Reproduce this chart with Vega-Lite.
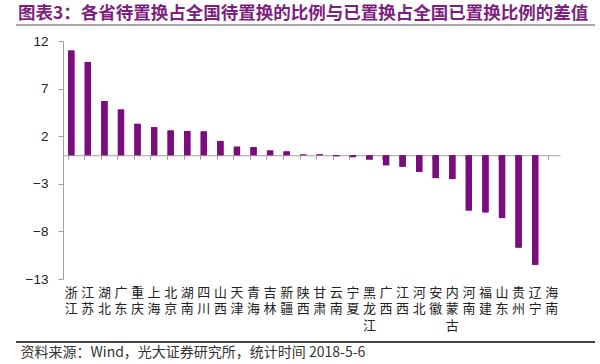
{
  "$schema": "https://vega.github.io/schema/vega-lite/v6.json",
  "width": 579,
  "height": 238,
  "autosize": {"type": "none"},
  "padding": {"left": 16, "top": 41, "right": 5, "bottom": 85},
  "background": "white",
  "title": {
    "text": "图表3：各省待置换占全国待置换的比例与已置换占全国已置换比例的差值",
    "anchor": "start",
    "frame": "group",
    "dx": 2,
    "offset": 2,
    "font": "Noto Sans CJK SC",
    "fontSize": 17.5,
    "fontWeight": "bold",
    "color": "#7E1F80"
  },
  "config": {"view": {"stroke": null}},
  "datasets": {
    "provinces": [
      {"province": "浙江", "value": 11.0},
      {"province": "江苏", "value": 9.8},
      {"province": "湖北", "value": 5.7},
      {"province": "广东", "value": 4.8},
      {"province": "重庆", "value": 3.3},
      {"province": "上海", "value": 2.95},
      {"province": "北京", "value": 2.6},
      {"province": "湖南", "value": 2.55},
      {"province": "四川", "value": 2.5},
      {"province": "山西", "value": 1.5},
      {"province": "天津", "value": 0.9},
      {"province": "青海", "value": 0.85},
      {"province": "吉林", "value": 0.5},
      {"province": "新疆", "value": 0.4},
      {"province": "陕西", "value": 0.08},
      {"province": "甘肃", "value": 0.1},
      {"province": "云南", "value": -0.1},
      {"province": "宁夏", "value": -0.2},
      {"province": "黑龙江", "value": -0.45},
      {"province": "广西", "value": -1.05},
      {"province": "江西", "value": -1.2},
      {"province": "河北", "value": -1.75},
      {"province": "安徽", "value": -2.4},
      {"province": "内蒙古", "value": -2.5},
      {"province": "河南", "value": -5.8},
      {"province": "福建", "value": -6.0},
      {"province": "山东", "value": -6.6},
      {"province": "贵州", "value": -9.7},
      {"province": "辽宁", "value": -11.5},
      {"province": "海南", "value": 0}
    ],
    "separators": [
      {"pos": 13.68, "kind": "top"},
      {"pos": -19.62, "kind": "bottom"}
    ]
  },
  "resolve": {"axis": {"x": "independent"}},
  "layer": [
    {
      "data": {"name": "provinces"},
      "mark": {"type": "bar", "color": "#7B0C7E"},
      "encoding": {
        "x": {
          "field": "province",
          "type": "nominal",
          "sort": null,
          "scale": {"paddingInner": 0.62, "paddingOuter": 0.31, "range": [47, 544]},
          "axis": {
            "orient": "bottom",
            "labelAngle": 0,
            "labelExpr": "split(datum.label, '')",
            "labelOverlap": false,
            "labelFont": "Noto Sans CJK SC",
            "labelFontSize": 13,
            "labelLineHeight": 16.5,
            "labelColor": "#222",
            "labelPadding": 7,
            "domain": false,
            "ticks": false,
            "title": "资料来源：Wind，光大证券研究所，统计时间 2018-5-6",
            "titleAnchor": "start",
            "titleAlign": "left",
            "titleX": 4,
            "titleY": 73,
            "titleBaseline": "middle",
            "titleFont": "Noto Sans CJK SC",
            "titleFontSize": 14,
            "titleFontWeight": "normal",
            "titleColor": "#333"
          }
        },
        "y": {
          "field": "value",
          "type": "quantitative",
          "scale": {"domain": [-13, 12], "nice": false, "zero": false},
          "axis": {
            "values": [12, 7, 2, -3, -8, -13],
            "offset": -47,
            "title": null,
            "grid": false,
            "domainColor": "#a0a0a0",
            "tickColor": "#a0a0a0",
            "tickSize": 5,
            "labelFont": "Liberation Sans",
            "labelFontSize": 13.5,
            "labelColor": "#222",
            "labelPadding": 10
          }
        }
      }
    },
    {
      "data": {"name": "provinces"},
      "mark": {"type": "bar", "color": "#7B0C7E"},
      "encoding": {
        "x": {
          "field": "province",
          "type": "nominal",
          "sort": null,
          "axis": {
            "orient": "bottom",
            "offset": -123.76,
            "labels": false,
            "title": null,
            "domain": true,
            "domainColor": "#a0a0a0",
            "ticks": true,
            "tickColor": "#a0a0a0",
            "tickSize": 4,
            "bandPosition": 0
          }
        },
        "y": {"field": "value", "type": "quantitative"}
      }
    },
    {
      "data": {"name": "separators"},
      "mark": {"type": "rule", "clip": false, "strokeOpacity": 1, "opacity": 1},
      "encoding": {
        "y": {"field": "pos", "type": "quantitative"},
        "stroke": {
          "field": "kind",
          "type": "nominal",
          "scale": {"domain": ["top", "bottom"], "range": ["#8a8a8a", "#444444"]},
          "legend": null
        },
        "strokeWidth": {
          "field": "kind",
          "type": "nominal",
          "scale": {"domain": ["top", "bottom"], "range": [1.5, 2]},
          "legend": null
        }
      }
    }
  ]
}
